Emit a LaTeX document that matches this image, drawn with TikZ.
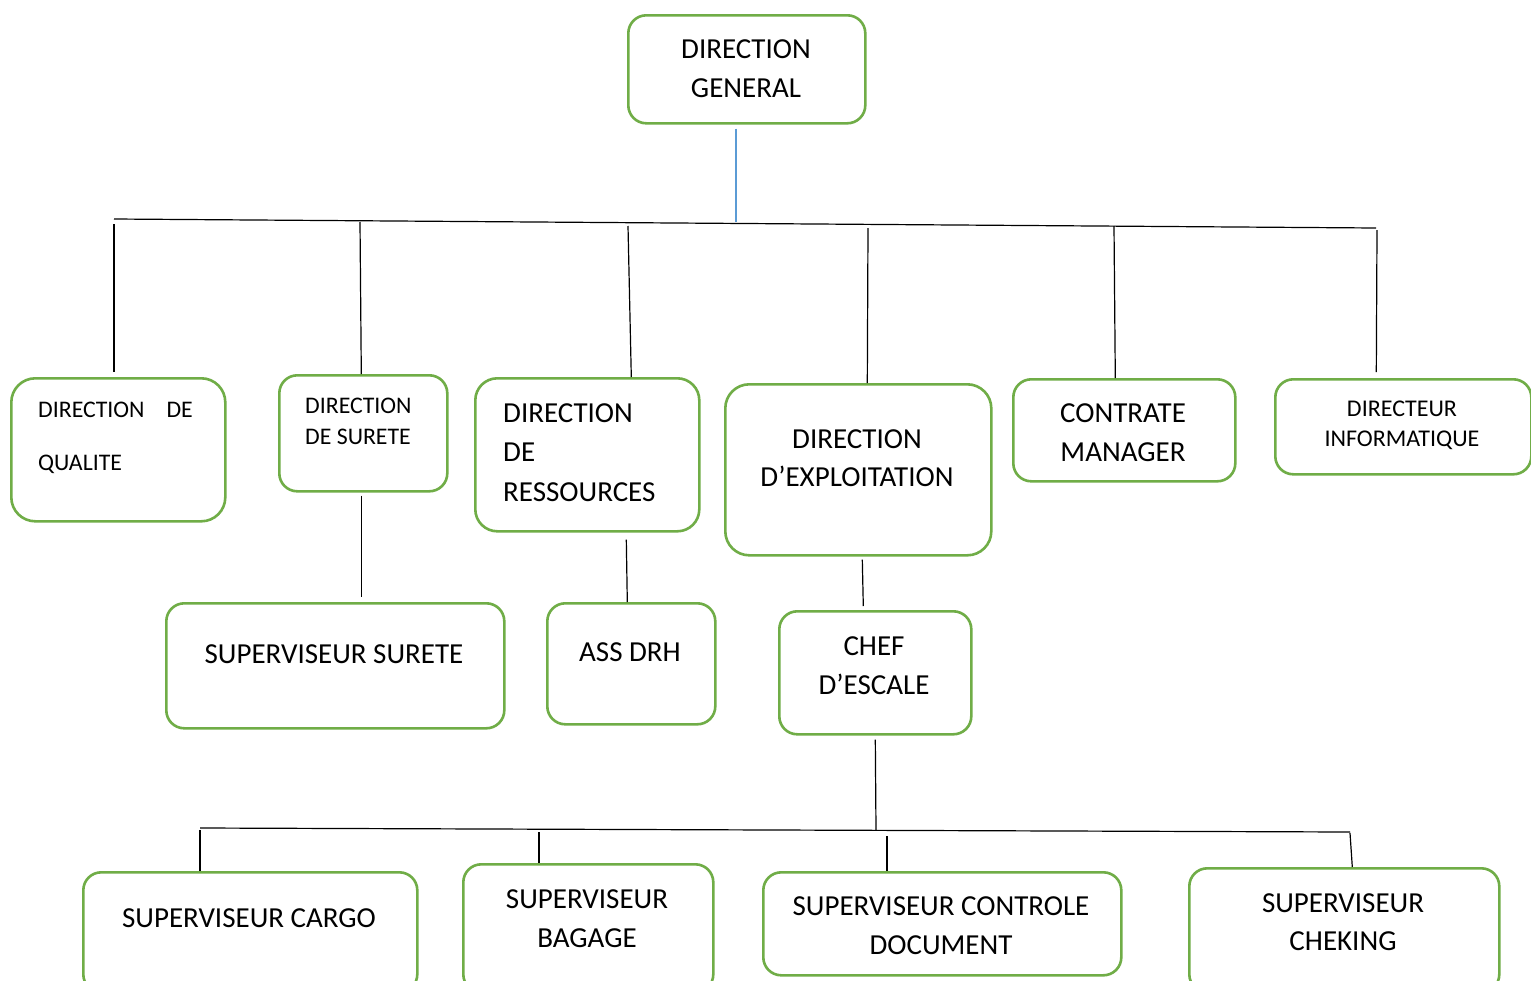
\documentclass[tikz,border=0pt]{standalone}
\usepackage{fontspec}
\setmainfont{Carlito}
\usetikzlibrary{calc}
\definecolor{boxgreen}{HTML}{70AD47}
\definecolor{linkblue}{HTML}{5B9BD5}
\begin{document}
\begin{tikzpicture}[x=1pt,y=-1pt,
  box/.style={draw=boxgreen, line width=2.6pt, rounded corners=18pt, inner sep=0pt, anchor=north west},
  conn/.style={draw=black, line width=1.2pt},
  toplink/.style={draw=linkblue, line width=1.3pt},
  big/.style={font=\fontsize{29}{39}\selectfont, inner sep=0pt, align=center},
  small/.style={font=\fontsize{23.8}{31}\selectfont, inner sep=0pt},
]
\useasboundingbox[fill=white] (0,0) rectangle (1531,980);

% ---------- boxes ----------
\node[box, minimum width=237pt, minimum height=108pt] (dg)   at (627,14)  {};
\node[box, minimum width=214pt, minimum height=143pt, rounded corners=24pt] (qual) at (10,377) {};
\node[box, minimum width=168pt, minimum height=116pt] (sur)  at (278,374) {};
\node[box, minimum width=224pt, minimum height=153pt, rounded corners=22pt] (res)  at (474,377) {};
\node[box, minimum width=266pt, minimum height=171pt, rounded corners=24pt] (expl) at (724,383) {};
\node[box, minimum width=222pt, minimum height=102pt] (cm)   at (1012,378) {};
\node[box, minimum width=256pt, minimum height=95pt]  (info) at (1274,378) {};
\node[box, minimum width=338pt, minimum height=125pt] (ssur) at (165,602) {};
\node[box, minimum width=168pt, minimum height=121pt] (drh)  at (546,602) {};
\node[box, minimum width=192pt, minimum height=123pt] (chef) at (778,610) {};
\node[box, minimum width=334pt, minimum height=120pt] (cargo) at (82,871) {};
\node[box, minimum width=250pt, minimum height=128pt] (bag)  at (462,863) {};
\node[box, minimum width=358pt, minimum height=103pt] (doc)  at (762,871) {};
\node[box, minimum width=310pt, minimum height=124pt] (chek) at (1188,867) {};

% ---------- labels ----------
\node[big] (dg-t)   at (746,68.5)  {DIRECTION\\GENERAL};
\node[small, font=\fontsize{23.8}{53}\selectfont, align=left, anchor=west] (qual-t) at (38,437.5)
  {DIRECTION\hskip 22pt DE\\QUALITE};
\node[small, align=left, anchor=west] (sur-t) at (305,421.5) {DIRECTION\\DE SURETE};
\node[big, font=\fontsize{29}{39.5}\selectfont, align=left, anchor=west] (res-t) at (503,452.5)
  {DIRECTION\\DE\\RESSOURCES};
\node[big, font=\fontsize{29}{38}\selectfont] (expl-t) at (857,458) {DIRECTION\\D’EXPLOITATION};
\node[big] (cm-t)   at (1123,432.5) {CONTRATE\\MANAGER};
\node[small, align=center, font=\fontsize{24}{30}\selectfont] (info-t) at (1402,425) {DIRECTEUR\\INFORMATIQUE};
\node[big] (ssur-t) at (334,654)   {SUPERVISEUR SURETE};
\node[big] (drh-t)  at (630,652)   {ASS DRH};
\node[big] (chef-t) at (874,665.5) {CHEF\\D’ESCALE};
\node[big] (cargo-t) at (249,918)  {SUPERVISEUR CARGO};
\node[big] (bag-t)  at (587,918.5) {SUPERVISEUR\\BAGAGE};
\node[big] (doc-t)  at (941,925.5) {SUPERVISEUR CONTROLE\\DOCUMENT};
\node[big, font=\fontsize{29}{38}\selectfont] (chek-t) at (1343,922) {SUPERVISEUR\\CHEKING};

% ---------- upper bus ----------
\coordinate (busL) at (114,219);
\coordinate (busR) at (1376,228);
\coordinate (busM) at (736,222);
\draw[toplink] ([yshift=-4pt]dg.south -| busM) -- (busM);
\draw[conn] (busL) -- (busR);

\coordinate (b1) at (114,224);
\coordinate (b2) at (360,222);
\coordinate (b3) at (628,226);
\coordinate (b4) at (868,228);
\coordinate (b5) at (1114,226);
\coordinate (b6) at (1377,230);
\draw[conn] (b1) -- ([yshift=5pt]b1 |- qual.north);
\draw[conn] (b2) -- ([xshift=-2pt]sur.north);
\draw[conn] (b3) -- ([xshift=44pt]res.north);
\draw[conn] (b4) -- ([xshift=9pt]expl.north);
\draw[conn] (b5) -- ([xshift=-9pt]cm.north);
\draw[conn] (b6) -- ([xshift=-27pt,yshift=6pt]info.north);

% ---------- second level ----------
\draw[conn] ([xshift=-2pt,yshift=-3pt]sur.south) -- ([xshift=26pt,yshift=5pt]ssur.north);
\draw[conn] ([xshift=39pt,yshift=-7pt]res.south) -- ([xshift=-4pt]drh.north);
\draw[conn] ([xshift=4pt,yshift=-3pt]expl.south) -- ([xshift=-12pt,yshift=4pt]chef.north);

% ---------- lower bus ----------
\coordinate (lbL) at (200,828);
\coordinate (lbR) at (1350,832);
\coordinate (lbM) at (876,830);
\draw[conn] ([yshift=-4pt]chef.south) -- (lbM);
\draw[conn] (lbL) -- (lbR);
\coordinate (c1) at (200,830);
\coordinate (c2) at (539,832);
\coordinate (c3) at (887,836);
\coordinate (c4) at (1350,833);
\draw[conn] (c1) -- (cargo.north -| c1);
\draw[conn] (c2) -- (bag.north -| c2);
\draw[conn] (c3) -- (doc.north -| c3);
\draw[conn] (c4) -- ([xshift=8pt]chek.north);
\end{tikzpicture}
\end{document}
